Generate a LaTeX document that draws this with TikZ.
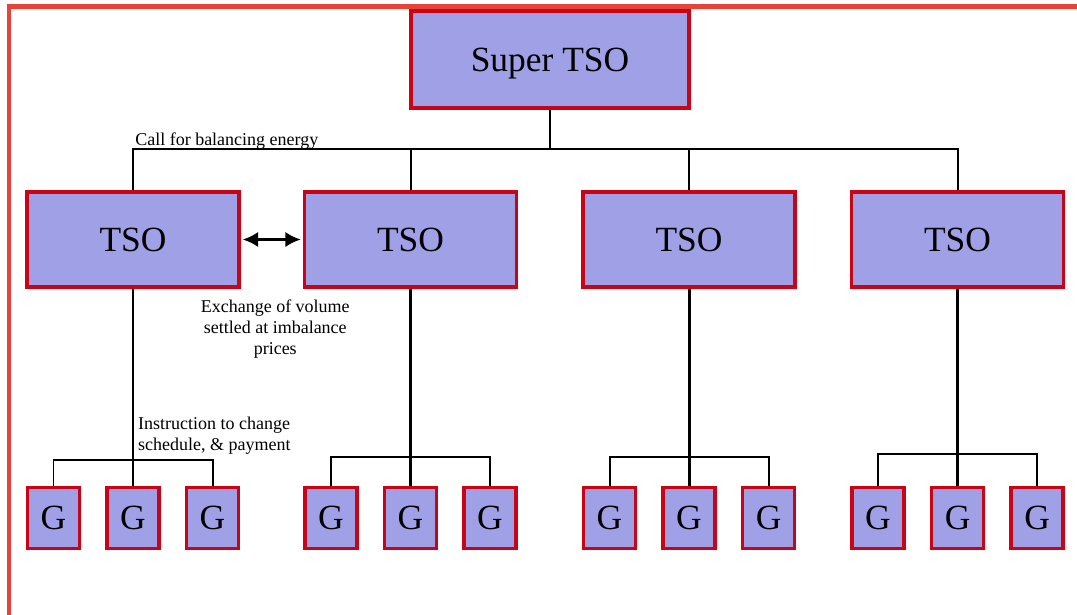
\documentclass[tikz,border=0pt]{standalone}
\usepackage{fontspec}
\setmainfont{Liberation Serif}
\usepackage{tikz}
\usetikzlibrary{arrows.meta,positioning}
\definecolor{BoxFill}{RGB}{160,160,230}
\definecolor{BoxRed}{RGB}{200,4,22}
\definecolor{FrameRed}{RGB}{232,67,56}

\begin{document}
\begin{tikzpicture}[>={Latex[length=11pt,width=11pt]},
  box/.style={draw=BoxRed,fill=BoxFill,line width=2.5pt,text depth=0pt,font=\fontsize{25.2}{30}\selectfont},
  tsobox/.style={box,minimum width=5.3cm,minimum height=2.375cm},
  gbox/.style={box,minimum width=1.3cm,minimum height=1.525cm,inner sep=0pt},
  link/.style={line width=1.4pt},
  trunk/.style={line width=2.1pt},
  note/.style={font=\fontsize{12.8}{15.2}\selectfont,inner sep=0pt}]
\useasboundingbox (0,0) rectangle (26.925,-15.35);
\draw[FrameRed,line width=2.85pt] (0.225,-15.6) |- (27.2,-0.1625);

\node[box,minimum width=6.95cm,minimum height=2.425cm] (super) at (13.75,-1.4875) {Super TSO};

\node[tsobox] (tso1) at (3.325,-5.9875) {TSO};
\node[tsobox,right=1.55cm of tso1] (tso2) {TSO};
\node[tsobox,right=1.575cm of tso2] (tso3) {TSO};
\node[tsobox,right=1.325cm of tso3] (tso4) {TSO};

% call for balancing energy
\draw[link] (tso1.north) -- ++(0,1.025) coordinate (busL) -| (tso4.north);
\draw[trunk] (super.south) -- (super.south |- busL);
\draw[link] (tso2.north) -- (tso2.north |- busL);
\draw[link] (tso3.north) -- (tso3.north |- busL);
\node[note,anchor=south west,inner xsep=0.05cm] (call) at (busL) {Call for balancing energy};

% exchange between TSOs
\draw[<->,line width=1.9pt,shorten >=0.05cm,shorten <=0.05cm] (tso1) -- (tso2);
\node[note,align=center,anchor=north] (exch) at ([xshift=0.8625cm,yshift=-0.26cm]tso1.south east) {Exchange of volume\\settled at imbalance\\prices};

% generators
\node[gbox,below=4.925cm of tso1] (g12) {G};
\node[gbox,left=0.6cm of g12] (g11) {G};
\node[gbox,right=0.6cm of g12] (g13) {G};
\node[gbox,below=4.925cm of tso2] (g22) {G};
\node[gbox,left=0.6cm of g22] (g21) {G};
\node[gbox,right=0.6cm of g22] (g23) {G};
\node[gbox,below=4.925cm of tso3] (g32) {G};
\node[gbox,left=0.6cm of g32] (g31) {G};
\node[gbox,right=0.6cm of g32] (g33) {G};
\node[gbox,below=4.925cm of tso4] (g42) {G};
\node[gbox,left=0.6cm of g42] (g41) {G};
\node[gbox,right=0.6cm of g42] (g43) {G};

\draw[link] (g11.north) -- ++(0,0.65) -| (g13.north);
\draw[link] (g21.north) -- ++(0,0.72) -| (g23.north);
\draw[link] (g31.north) -- ++(0,0.72) -| (g33.north);
\draw[link] (g41.north) -- ++(0,0.8) -| (g43.north);
\draw[trunk] (tso1.south) -- (g12.north);
\draw[trunk] (tso2.south) -- (g22.north);
\draw[trunk] (tso3.south) -- (g32.north);
\draw[trunk] (tso4.south) -- (g42.north);
\node[note,align=left,anchor=south west] (instr) at ([xshift=0.12cm,yshift=0.78cm]g12.north) {Instruction to change\\schedule, \& payment};
\end{tikzpicture}
\end{document}
